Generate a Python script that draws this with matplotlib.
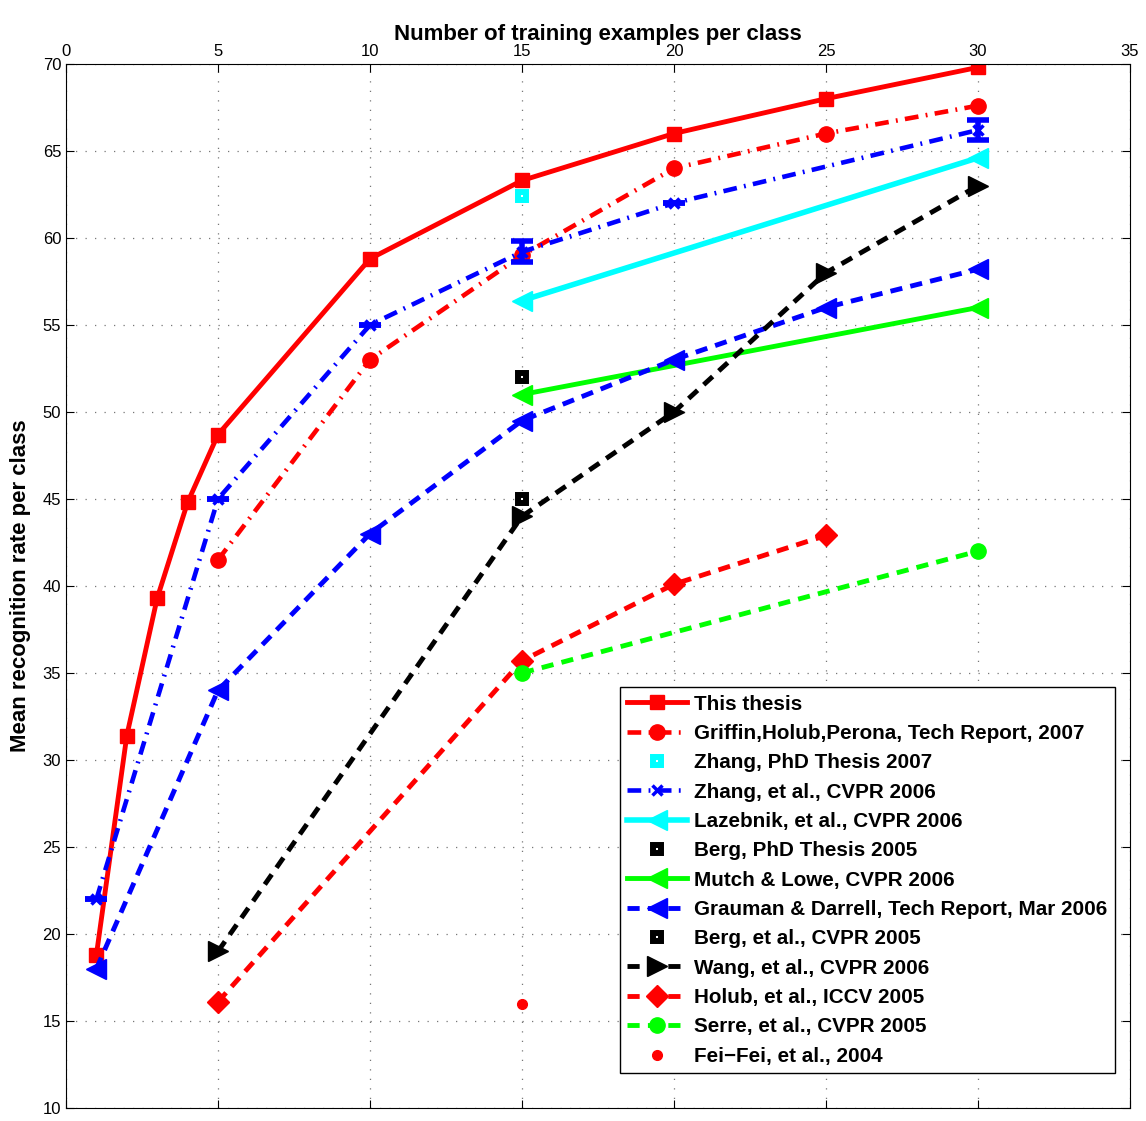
import numpy as np
import matplotlib.pyplot as plt

plt.rcParams['font.family'] = ['Liberation Sans', 'DejaVu Sans']

# data
thesis_x = [1, 2, 3, 4, 5, 10, 15, 20, 25, 30]
thesis_y = [18.8, 31.4, 39.3, 44.8, 48.7, 58.8, 63.3, 66.0, 68.0, 69.8]

griffin_x = [5, 10, 15, 20, 25, 30]
griffin_y = [41.5, 53.0, 59.0, 64.0, 66.0, 67.6]

zhang07_x = [15]
zhang07_y = [62.4]

zhang06_x = [1, 5, 10, 15, 20, 30]
zhang06_y = [22.0, 45.0, 55.0, 59.2, 62.0, 66.2]
zhang06_err = [0, 0, 0, 0.6, 0, 0.6]

lazebnik_x = [15, 30]
lazebnik_y = [56.4, 64.6]

bergphd_x = [15]
bergphd_y = [52.0]

mutch_x = [15, 30]
mutch_y = [51.0, 56.0]

grauman_x = [1, 5, 10, 15, 20, 25, 30]
grauman_y = [18.0, 34.0, 43.0, 49.5, 53.0, 56.0, 58.2]

bergcvpr_x = [15]
bergcvpr_y = [45.0]

wang_x = [5, 15, 20, 25, 30]
wang_y = [19.0, 44.0, 50.0, 58.0, 63.0]

holub_x = [5, 15, 20, 25]
holub_y = [16.1, 35.7, 40.1, 42.9]

serre_x = [15, 30]
serre_y = [35.0, 42.0]

feifei_x = [15]
feifei_y = [16.0]

green = '#00ff00'
dash = (2.5, 1.7)
dashdot = (3, 1.6, 0.4, 1.6)

fig = plt.figure(figsize=(11.46, 11.21), dpi=100)
ax = fig.add_axes([0.0576, 0.0116, 0.9284, 0.9314])

ax.plot(thesis_x, thesis_y, '-', color='red', lw=3.5, marker='s', ms=10.5,
        mfc='red', mec='red', label='This thesis')
ax.plot(griffin_x, griffin_y, '-.', color='red', lw=3.3, marker='o', ms=11,
        mfc='red', mec='red', dashes=dashdot,
        label='Griffin,Holub,Perona, Tech Report, 2007')
ax.plot(zhang07_x, zhang07_y, 's', color='cyan', ms=6.3, mfc='white', mew=4.3,
        label='Zhang, PhD Thesis 2007')
ax.errorbar(zhang06_x, zhang06_y, yerr=zhang06_err, fmt='none', ecolor='blue',
            elinewidth=4, capsize=8, capthick=4)
ax.plot(zhang06_x, zhang06_y, '-.', color='blue', lw=3.3, marker='x', ms=7,
        mew=2.5, dashes=dashdot, label='Zhang, et al., CVPR 2006')
ax.plot(lazebnik_x, lazebnik_y, '-', color='cyan', lw=4, marker='<', ms=15,
        label='Lazebnik, et al., CVPR 2006')
ax.plot(bergphd_x, bergphd_y, 's', color='black', ms=6.3, mfc='white', mew=4.3,
        label='Berg, PhD Thesis 2005')
ax.plot(mutch_x, mutch_y, '-', color=green, lw=3.5, marker='<', ms=15,
        label='Mutch & Lowe, CVPR 2006')
ax.plot(grauman_x, grauman_y, '--', color='blue', lw=3.5, marker='<', ms=15,
        dashes=dash, label='Grauman & Darrell, Tech Report, Mar 2006')
ax.plot(bergcvpr_x, bergcvpr_y, 's', color='black', ms=6.3, mfc='white', mew=4.3,
        label='Berg, et al., CVPR 2005')
ax.plot(wang_x, wang_y, '--', color='black', lw=3.5, marker='>', ms=15,
        dashes=dash, label='Wang, et al., CVPR 2006')
ax.plot(holub_x, holub_y, '--', color='red', lw=3.5, marker='D', ms=11,
        dashes=dash, label='Holub, et al., ICCV 2005')
ax.plot(serre_x, serre_y, '--', color=green, lw=3.5, marker='o', ms=11,
        dashes=dash, label='Serre, et al., CVPR 2005')
ax.plot(feifei_x, feifei_y, 'o', color='red', ms=7, label='Fei\u2212Fei, et al., 2004')

ax.set_xlim(0, 35)
ax.set_ylim(10, 70)
ax.set_xticks(np.arange(0, 36, 5))
ax.set_yticks(np.arange(10, 71, 5))
ax.xaxis.tick_top()
ax.xaxis.set_label_position('top')
ax.tick_params(direction='in', top=True, bottom=True, left=True, right=True,
               labeltop=True, labelbottom=False, labelsize=12, length=6)
ax.grid(True, linestyle=(0, (1, 6.6)), color='#777777', lw=0.9)
ax.set_xlabel('Number of training examples per class', fontsize=16,
              fontweight='bold', labelpad=3)
ax.set_ylabel('Mean recognition rate per class', fontsize=16,
              fontweight='bold', labelpad=8)

leg = ax.legend(loc='lower right', bbox_to_anchor=(0.9855, 0.0335),
                prop={'weight': 'bold', 'size': 14.9}, handlelength=2.9,
                fancybox=False, framealpha=1, edgecolor='black',
                borderpad=0.35, labelspacing=0.5, handletextpad=0.35,
                borderaxespad=0)
leg.get_frame().set_linewidth(1)

fig.savefig('out.png', dpi=100)
